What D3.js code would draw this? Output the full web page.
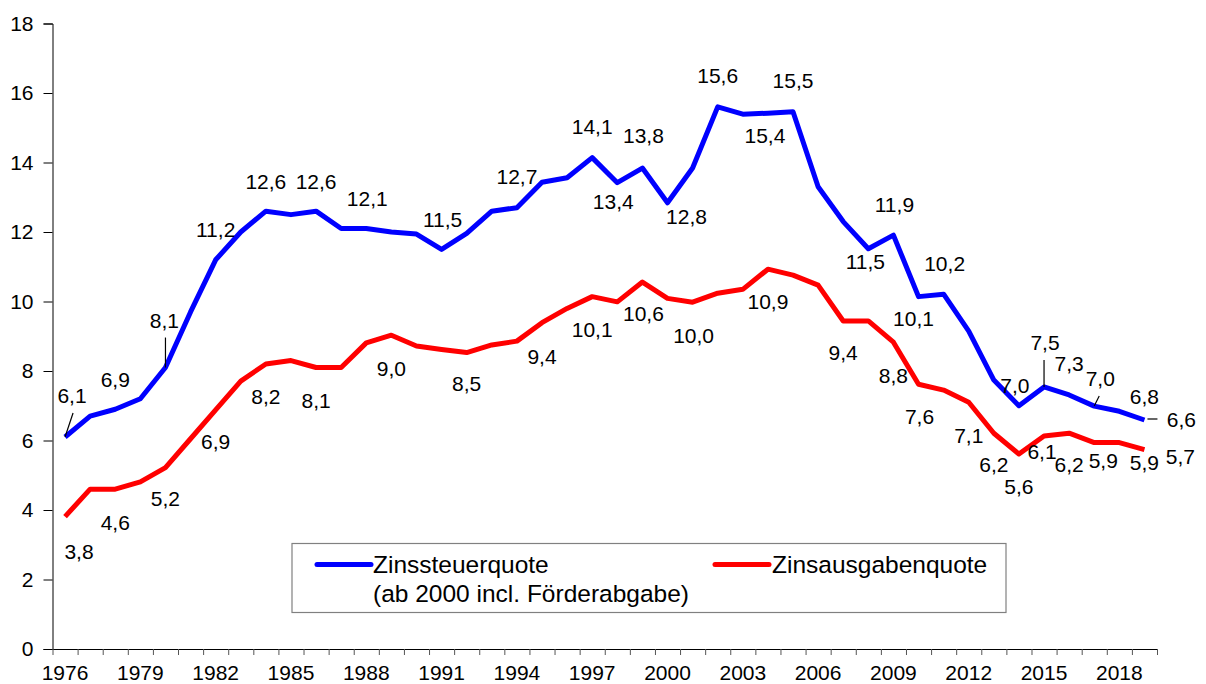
<!DOCTYPE html>
<html>
<head>
<meta charset="utf-8">
<script src="https://cdn.jsdelivr.net/npm/d3@7"></script>
<style>
  body { margin: 0; background: #fff; }
  svg text { font-family: "Liberation Sans", Arial, sans-serif; fill: #000; }
</style>
</head>
<body>
<div id="chart"></div>
<script>
// data
var years = d3.range(1976, 2020);
var zinssteuer = [6.1, 6.7, 6.9, 7.2, 8.1, 9.7, 11.2, 12.0, 12.6, 12.5, 12.6, 12.1, 12.1, 12.0, 11.94,
    11.5, 11.96, 12.6, 12.7, 13.43, 13.56, 14.14, 13.42, 13.84, 12.84, 13.84, 15.6, 15.39, 15.42, 15.46,
    13.3, 12.3, 11.52, 11.91, 10.14, 10.21, 9.15, 7.74, 7.0, 7.54, 7.31, 6.99, 6.84, 6.59];
var zinsausgaben = [3.81, 4.6, 4.6, 4.81, 5.22, 6.05, 6.88, 7.71, 8.2, 8.3, 8.1, 8.1, 8.81, 9.03, 8.72,
    8.62, 8.53, 8.75, 8.86, 9.39, 9.8, 10.14, 9.99, 10.56, 10.09, 9.98, 10.24, 10.35, 10.93, 10.76,
    10.47, 9.44, 9.44, 8.83, 7.62, 7.45, 7.1, 6.21, 5.61, 6.13, 6.21, 5.94, 5.94, 5.74];
var yTicks = [0, 2, 4, 6, 8, 10, 12, 14, 16, 18];
var xLabelYears = d3.range(1976, 2020, 3);
var seriesNames = ["Zinssteuerquote", "(ab 2000 incl. Förderabgabe)", "Zinsausgabenquote"];

// where the value labels sit, offset from their point: [year, dx, dy]
var blueLabels = [[1976, 7, -41], [1978, 0, -30], [1980, -1, -47], [1982, 0, -30], [1984, 0, -30],
    [1986, 0, -30], [1988, 1, -30], [1991, 1, -30], [1994, 0, -31], [1997, 0, -31], [1998, -4, 19],
    [1999, 1, -32], [2000, 19, 14], [2002, 0, -31], [2004, -3, 22], [2005, 0, -31], [2008, -3, 13],
    [2009, 1, -30], [2010, -5, 22], [2011, 1, -31], [2014, -4, -20], [2015, 1, -44], [2016, 0, -31],
    [2017, 6, -27], [2018, 25, -15], [2019, 37, 0]];
var redLabels = [[1976, 14, 35], [1978, 0, 33], [1980, 0, 31], [1982, 0, 32], [1984, 0, 33],
    [1986, 0, 33], [1989, 0, 33], [1992, 0, 31], [1995, 0, 34], [1997, 0, 33], [1999, 1, 32],
    [2001, 1, 33], [2004, 0, 32], [2007, 0, 32], [2009, 0, 33], [2010, 1, 32], [2012, 0, 33],
    [2013, 0, 31], [2014, 0, 33], [2015, -2, 16], [2016, 0, 31], [2017, 9, 18], [2018, 25, 20],
    [2019, 36, 7]];
// leader lines: [year, x1, y1, x2, y2] relative to the point
var blueLeaders = [[1976, 0, 0, 8, -24], [1980, 0, 0, 0, -30], [2015, 0, 0, 0, -27],
    [2017, 0, 0, 5, -10], [2019, 3, -1, 13, -1]];

function draw() {
    var width = 1206, height = 684;
    var plotLeft = 52.5, plotRight = 1157, plotTop = 23.5, plotBottom = 649;

    var svg = d3.select("#chart").append("svg")
        .attr("width", width)
        .attr("height", height);

    var x = d3.scaleBand().domain(years).range([plotLeft, plotRight]).padding(0);
    var xEdge = d3.scaleLinear().domain([1976, 2020]).range([plotLeft, plotRight]);
    var y = d3.scaleLinear().domain([0, 18]).range([plotBottom, plotTop]);
    var px = function(yr) { return x(yr) + x.bandwidth() / 2; };

    var fmt = d3.formatLocale({decimal: ",", thousands: ".", grouping: [3], currency: ["", ""]}).format(".1f");

    // y axis
    var yAxis = svg.append("g")
        .attr("transform", "translate(" + plotLeft + ",0)")
        .call(d3.axisLeft(y).tickValues(yTicks).tickSize(9).tickPadding(10).tickFormat(d3.format("d")));
    yAxis.selectAll("text").style("font-size", "21px").style("font-family", null);
    yAxis.selectAll("line, path").attr("stroke", "#000");

    // x axis, ticks at year boundaries
    var xAxis = svg.append("g")
        .attr("transform", "translate(0," + plotBottom + ")")
        .call(d3.axisBottom(xEdge).tickValues(d3.range(1976, 2021)).tickSize(6).tickSizeOuter(0).tickFormat(""));
    xAxis.selectAll("line").attr("stroke", "#555");
    xAxis.select("path").attr("stroke", "#000");

    svg.append("g").selectAll("text")
        .data(xLabelYears)
        .enter().append("text")
        .attr("x", function(d) { return px(d); })
        .attr("y", 673)
        .attr("dy", "0.35em")
        .attr("text-anchor", "middle")
        .style("font-size", "21px")
        .text(function(d) { return d; });

    // lines
    var line = function(vals) {
        return d3.line()
            .x(function(d, i) { return px(years[i]); })
            .y(function(d) { return y(d); })(vals);
    };
    svg.append("path").attr("d", line(zinssteuer))
        .attr("fill", "none").attr("stroke", "#0000ff").attr("stroke-width", 5).attr("stroke-linejoin", "round");
    svg.append("path").attr("d", line(zinsausgaben))
        .attr("fill", "none").attr("stroke", "#ff0000").attr("stroke-width", 5).attr("stroke-linejoin", "round");

    // leader lines
    svg.append("g").selectAll("line")
        .data(blueLeaders)
        .enter().append("line")
        .attr("x1", function(d) { return px(d[0]) + d[1]; })
        .attr("y1", function(d) { return y(zinssteuer[years.indexOf(d[0])]) + d[2]; })
        .attr("x2", function(d) { return px(d[0]) + d[3]; })
        .attr("y2", function(d) { return y(zinssteuer[years.indexOf(d[0])]) + d[4]; })
        .attr("stroke", "#000").attr("stroke-width", 1.2);

    // value labels
    function addLabels(placement, vals) {
        svg.append("g").selectAll("text")
            .data(placement)
            .enter().append("text")
            .attr("x", function(d) { return px(d[0]) + d[1]; })
            .attr("y", function(d) { return y(vals[years.indexOf(d[0])]) + d[2]; })
            .attr("dy", "0.35em")
            .attr("text-anchor", "middle")
            .style("font-size", "21px")
            .text(function(d) { return fmt(vals[years.indexOf(d[0])]); });
    }
    addLabels(blueLabels, zinssteuer);
    addLabels(redLabels, zinsausgaben);

    // legend
    var legend = svg.append("g");
    legend.append("rect")
        .attr("x", 292).attr("y", 543.5).attr("width", 714).attr("height", 69)
        .attr("fill", "#fff").attr("stroke", "#808080").attr("stroke-width", 1.2);
    legend.append("line").attr("x1", 317).attr("x2", 371).attr("y1", 564.5).attr("y2", 564.5)
        .attr("stroke", "#0000ff").attr("stroke-width", 5).attr("stroke-linecap", "round");
    legend.append("line").attr("x1", 715).attr("x2", 769).attr("y1", 564.5).attr("y2", 564.5)
        .attr("stroke", "#ff0000").attr("stroke-width", 5).attr("stroke-linecap", "round");
    legend.append("text").attr("x", 373).attr("y", 564.5).attr("dy", "0.35em")
        .style("font-size", "24.5px").text(seriesNames[0]);
    legend.append("text").attr("x", 373).attr("y", 593.5).attr("dy", "0.35em")
        .style("font-size", "24.5px").text(seriesNames[1]);
    legend.append("text").attr("x", 772).attr("y", 564.5).attr("dy", "0.35em")
        .style("font-size", "24.5px").text(seriesNames[2]);
}
draw();
</script>
</body>
</html>
